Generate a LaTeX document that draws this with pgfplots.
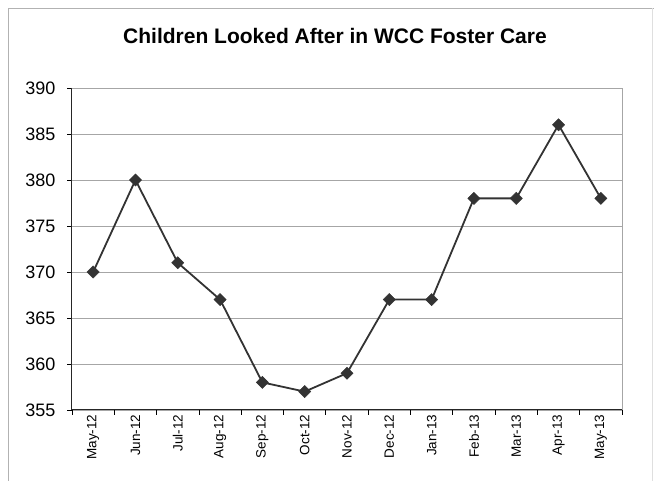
\documentclass[border=0pt]{standalone}
\usepackage{pgfplots}
\pgfplotsset{compat=1.18}
\usepackage{fontspec}
\setmainfont{Liberation Sans}
\begin{document}
\begin{tikzpicture}[x=1pt,y=1pt]
\useasboundingbox (0,0) rectangle (654,481);
\draw[gray!60, line width=0.8pt] (8,-2) -- (8,473) -- (656,473);
\draw[gray!25, line width=0.6pt] (652,0) -- (652,473);
\node[font=\fontsize{21}{24}\selectfont\bfseries] at (335,445) {Children Looked After in WCC Foster Care};
\begin{axis}[
  at={(72pt,71pt)}, anchor=south west,
  scale only axis, width=550pt, height=322pt,
  xmin=-0.5, xmax=12.5, ymin=355, ymax=390,
  ytick={355,360,...,390},
  xtick={-0.5,0.5,...,12.5}, xticklabels={},
  extra x ticks={0,...,12},
  extra x tick labels={May-12,Jun-12,Jul-12,Aug-12,Sep-12,Oct-12,Nov-12,Dec-12,Jan-13,Feb-13,Mar-13,Apr-13,May-13},
  extra x tick style={major tick length=0pt, tick style={draw=none},
    tick label style={rotate=90, anchor=east, font=\fontsize{13.5}{15}\selectfont, xshift=-1pt}},
  y tick label style={font=\fontsize{18}{20}\selectfont, xshift=-8pt},
  xtick pos=bottom, ytick pos=left,
  tick align=outside, major tick length=5pt,
  tick style={black, line width=0.8pt},
  ymajorgrids, grid style={gray!70, line width=0.8pt},
  axis line style={draw=none},
  /pgf/number format/assume math mode=true,
  clip=false,
]
\draw[gray!70, line width=0.8pt] (rel axis cs:0,1) -- (rel axis cs:1,1) -- (rel axis cs:1,0);
\draw[black!85, line width=1pt] (rel axis cs:0,1) -- (rel axis cs:0,0) -- (rel axis cs:1,0);
\addplot[black!80, line width=1.8pt, mark=square*, mark size=4.3pt, mark options={rotate=45, fill=black!80, draw=black!80, line width=0.5pt}]
coordinates {(0,370)(1,380)(2,371)(3,367)(4,358)(5,357)(6,359)(7,367)(8,367)(9,378)(10,378)(11,386)(12,378)};
\end{axis}
\end{tikzpicture}
\end{document}
